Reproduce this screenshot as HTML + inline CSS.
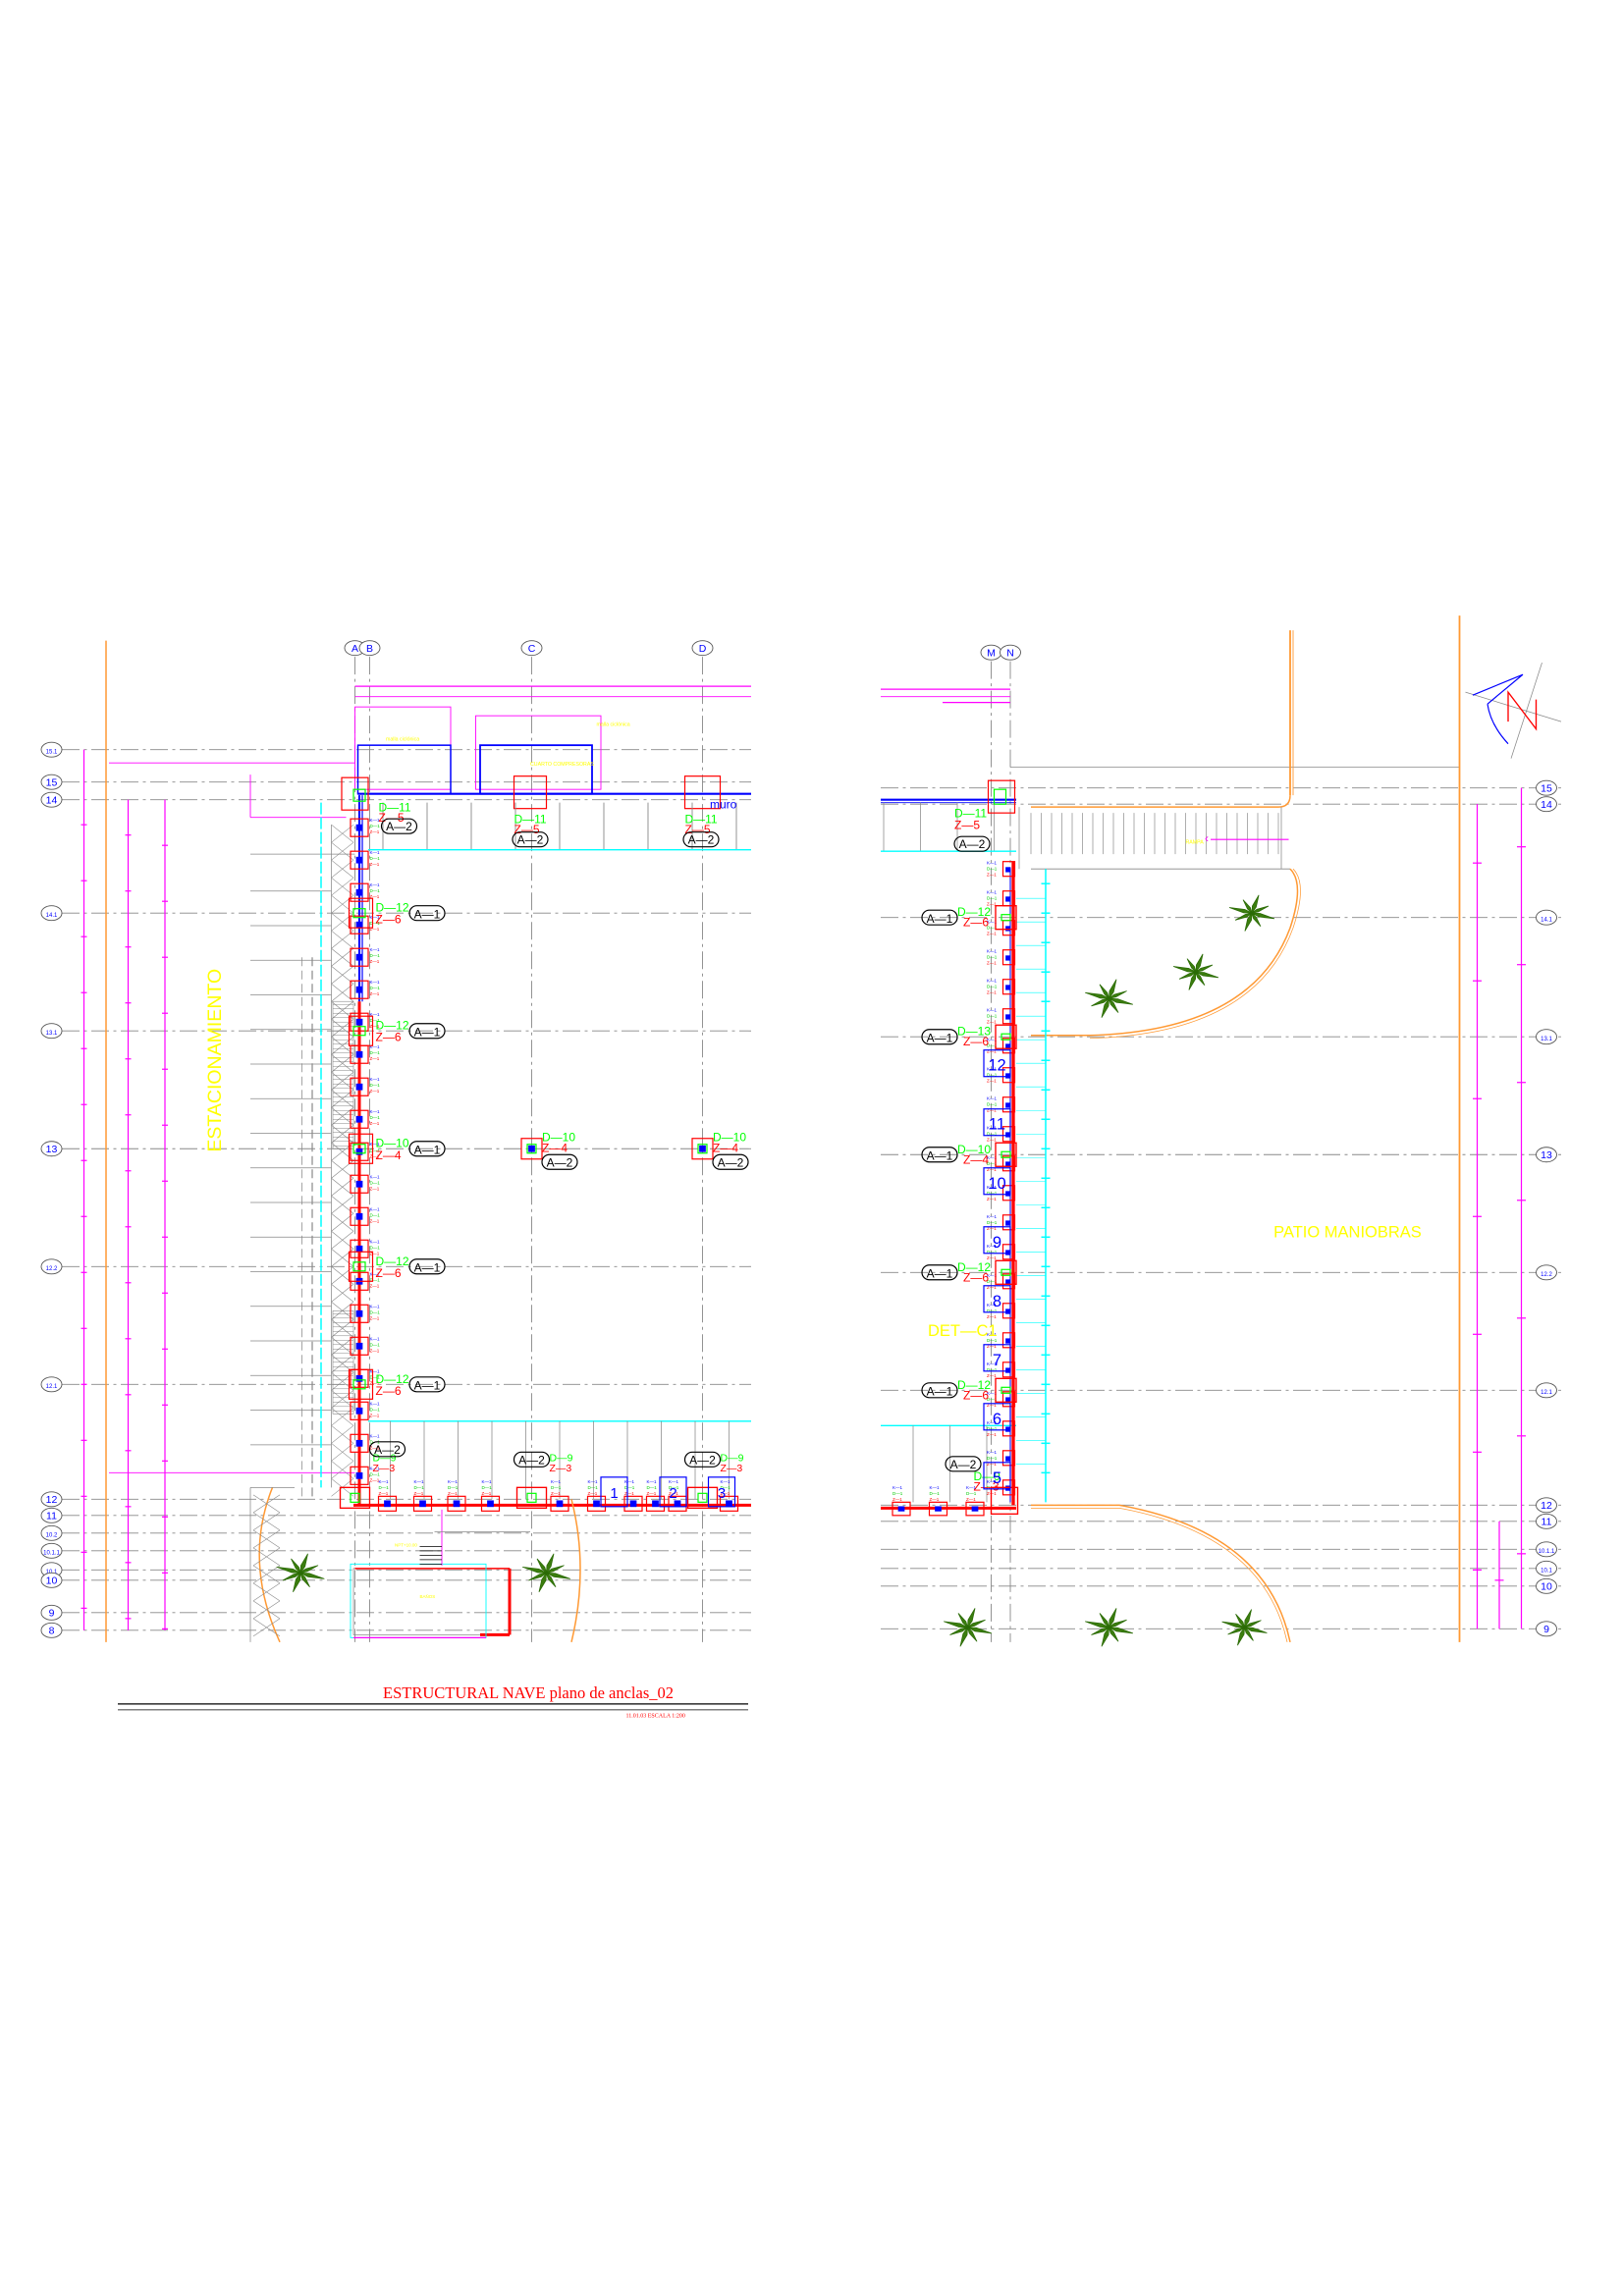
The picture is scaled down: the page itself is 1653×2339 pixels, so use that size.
<!DOCTYPE html>
<html><head><meta charset="utf-8"><style>
html,body{margin:0;padding:0;background:#fff;}
svg{display:block;}
text{font-family:"Liberation Sans",sans-serif;}
</style></head><body>
<svg id="s" xmlns="http://www.w3.org/2000/svg" width="1653" height="2339" viewBox="0 0 1102 1559" preserveAspectRatio="none">
<rect width="1102" height="1559" fill="#fff"/>
<g id="g" fill="none" stroke-width="0.8"></g>
<text x="150" y="720" font-size="13" fill="#ffff00" transform="rotate(-90 150 720)" text-anchor="middle">ESTACIONAMIENTO</text>
<text x="915" y="840" font-size="11" fill="#ffff00" text-anchor="middle">PATIO   MANIOBRAS</text>
<text x="630" y="907" font-size="11" fill="#ffff00">DET—C1</text>
<text x="260" y="1153" font-size="11" fill="#ff0000" style="font-family:'Liberation Serif',serif">ESTRUCTURAL NAVE  plano de anclas_02</text>
<line x1="80" y1="1157" x2="508" y2="1157" stroke="#000" stroke-width="0.8"/>
<line x1="80" y1="1161" x2="508" y2="1161" stroke="#000" stroke-width="0.5"/>
<text x="425" y="1166" font-size="4" fill="#ff0000" style="font-family:'Liberation Serif',serif">11.01.03      ESCALA   1:200</text>
<text x="482" y="549" font-size="8" fill="#0000ff">muro</text>
</svg>
<script>
const g=document.getElementById('g');const NS='http://www.w3.org/2000/svg';
function el(t,a,txt){const e=document.createElementNS(NS,t);for(const k in a)e.setAttribute(k,a[k]);if(txt!==undefined)e.textContent=txt;g.appendChild(e);return e;}
function L(x1,y1,x2,y2,c,w,d){const a={x1,y1,x2,y2,stroke:c,'stroke-width':w||0.6};if(d)a['stroke-dasharray']=d;return el('line',a);}
function R(x,y,w,h,c,sw,f){return el('rect',{x,y,width:w,height:h,stroke:c,'stroke-width':sw||0.8,fill:f||'none'});}
function T(x,y,s,c,t,anc){return el('text',{x,y,'font-size':s,fill:c,stroke:'none','text-anchor':anc||'start'},t);}
function bub(x,y,lab){el('ellipse',{cx:x,cy:y,rx:7,ry:5,stroke:'#555','stroke-width':0.6,fill:'#fff'});T(x,y+2.5,lab.length>2?4:7,'#0000ff',lab,'middle');}
const DD='12 3 2 3';
const rowsL=[['15.1',509],['15',531],['14',543],['14.1',620],['13.1',700],['13',780],['12.2',860],['12.1',940],['12',1018],['11',1029],['10.2',1041],['10.1.1',1053],['10.1',1066],['10',1073],['9',1095],['8',1107]];
rowsL.forEach(([l,y])=>{L(42,y,510,y,'#888',0.6,DD);bub(35,y,l);});
[['A',241],['B',251],['C',361],['D',477]].forEach(([l,x])=>{L(x,446,x,1115,'#888',0.6,DD);bub(x,440,l);});
L(72,435,72,1115,'#ff9933',1);
[57,87,112].forEach((x,i)=>{L(x,[509,543,543][i],x,1107,'#ff00ff',0.8);for(let y=560;y<1100;y+=38)L(x-2,y+i*7,x+2,y+i*7,'#ff00ff',0.8);});
L(241,466,510,466,'#ff00ff',0.8);L(241,473,510,473,'#ff00ff',0.6);
L(74,518,241,518,'#ff00ff',0.6);L(170,526,170,555,'#ff00ff',0.6);L(170,555,235,555,'#ff00ff',0.6);
L(74,1000,241,1000,'#ff00ff',0.6);
R(241,480,65,56,'#ff00ff',0.6);R(323,486,85,50,'#ff00ff',0.6);
R(243,506,63,33,'#0000ff',1);R(326,506,76,33,'#0000ff',1.2);
L(243,539,510,539,'#0000ff',1.4);
T(262,503,3.5,'#ffff00','malla ciclónica');T(360,520,3.5,'#ffff00','CUARTO COMPRESORAS');T(405,493,3.5,'#ffff00','malla ciclónica');
R(349,527,22,22,'#ff0000',0.8);R(465,527,24,22,'#ff0000',0.8);
for(let x=260;x<510;x+=30)L(x,545,x,577,'#888',0.6);
L(250,577,510,577,'#00ffff',0.9);
L(170,580,241,580,'#888',0.5);
for(let y=605;y<990;y+=23.5)L(170,y,225,y,'#888',0.5);
L(218,545,218,1010,'#00ffff',1,'8 2');
for(let y=560;y<1010;y+=12){L(225,y,240,y+12,'#888',0.4);L(240,y,225,y+12,'#888',0.4);}
L(225,560,225,1010,'#888',0.5);
R(226,680,14,100,'#888',0.4);R(226,890,14,70,'#888',0.4);
for(let y=682;y<780;y+=3)L(226,y,240,y,'#777',0.3);for(let y=892;y<960;y+=3)L(226,y,240,y,'#777',0.3);
L(212,650,212,1018,'#888',0.8,'6 3');
L(205,650,205,1018,'#888',0.5,'6 3');
L(244,540,244,680,'#0000ff',1.4);L(246,540,246,680,'#0000ff',0.8);
L(244,680,244,1022,'#ff0000',2);L(240,1022,510,1022,'#ff0000',2);
L(250,965,510,965,'#00ffff',0.9);
for(let x=265;x<510;x+=23)L(x,965,x,1018,'#888',0.5);
for(let y=562;y<1010;y+=22){R(238,y-6,12,12,'#ff0000',0.8);R(242,y-2,4,4,'#0000ff',0.5,'#0000ff');T(251,y-4,3,'#0000ff','K—1');T(251,y,3,'#00cc00','D—1');T(251,y+4,3,'#ff0000','Z—1');}
[620,700,780,860,940].forEach((y,i)=>{R(237,y-10,16,20,'#ff0000',0.8);R(240,y-3,8,6,'#00ff00',0.8);T(255,y-1,8,'#00ff00',i==2?'D—10':'D—12');T(255,y+7,8,'#ff0000',i==2?'Z—4':'Z—6');
 el('rect',{x:278,y:y-5,width:24,height:10,rx:5,stroke:'#000','stroke-width':0.8,fill:'none'});T(290,y+3.5,8,'#000','A—1','middle');});
R(232,528,18,22,'#ff0000',0.8);R(240,536,8,8,'#00ff00',0.8);T(257,551,8,'#00ff00','D—11');T(257,558,8,'#ff0000','Z—5');
el('rect',{x:259,y:556,width:24,height:10,rx:5,stroke:'#000','stroke-width':0.8});T(271,564,8,'#000','A—2','middle');
[[361,'D—11','Z—5'],[477,'D—11','Z—5']].forEach(([x,a,b])=>{T(x-12,559,8,'#00ff00',a);T(x-12,566,8,'#ff0000',b);el('rect',{x:x-13,y:565,width:24,height:10,rx:5,stroke:'#000','stroke-width':0.8});T(x-1,573,8,'#000','A—2','middle');});
[361,477].forEach(x=>{R(x-7,773,14,14,'#ff0000',0.8);R(x-3,777,6,6,'#00ff00',0.8);R(x-2,778,4,4,'#0000ff',0.5,'#0000ff');T(x+7,775,8,'#00ff00','D—10');T(x+7,782,8,'#ff0000','Z—4');el('rect',{x:x+7,y:784,width:24,height:10,rx:5,stroke:'#000','stroke-width':0.8});T(x+19,792,8,'#000','A—2','middle');});
[263,287,310,333,380,405,430,445,460,495].forEach(x=>{R(x-6,1016,12,10,'#ff0000',0.8);R(x-2,1019,4,4,'#0000ff',0.5,'#0000ff');T(x-6,1007,3,'#0000ff','K—1');T(x-6,1011,3,'#00cc00','D—1');T(x-6,1015,3,'#ff0000','Z—1');});
[[241,'D—9'],[361,'D—9'],[477,'D—9']].forEach(([x,a])=>{R(x-10,1010,20,14,'#ff0000',0.9);R(x-3,1014,6,6,'#00ff00',0.8);T(x+12,992,7,'#00ff00',a);T(x+12,999,7,'#ff0000','Z—3');el('rect',{x:x-12+ (x==241?22:0),y:x==241?979:986,width:24,height:10,rx:5,stroke:'#000','stroke-width':0.8});T(x+(x==241?22:0),x==241?987:994,8,'#000','A—2','middle');});
[[408,'1'],[448,'2'],[481,'3']].forEach(([x,n])=>{R(x,1003,18,20,'#0000ff',0.8);T(x+9,1017,10,'#0000ff',n,'middle');});
el('path',{d:'M185,1010 Q165,1060 190,1115',stroke:'#ff9933','stroke-width':1});
el('path',{d:'M170,1010 L170,1115 M170,1010 L200,1010',stroke:'#888','stroke-width':0.5});
for(let y=1015;y<1110;y+=12){L(172,y,190,y+12,'#888',0.4);L(190,y,172,y+12,'#888',0.4);}
el('path',{d:'M388,1018 Q400,1065 388,1115',stroke:'#ff9933','stroke-width':1});
R(240,1065,106,45,'#888',0.5);L(346,1065,346,1110,'#ff0000',2);L(326,1110,346,1110,'#ff0000',2);L(241,1065,346,1065,'#ff0000',1);
R(238,1062,92,50,'#00ffff',0.6);L(240,1112,330,1112,'#ff00ff',0.8);
L(300,1025,300,1063,'#ff00ff',0.6);L(295,1040,360,1040,'#888',0.5);
for(let y=1050;y<1065;y+=3)L(285,y,300,y,'#000',0.5);
T(268,1050,3,'#ffff00','NPT+10.00');T(285,1085,3,'#ffff00','BAÑOS');
const rowsR=[['15',535],['14',546],['14.1',623],['13.1',704],['13',784],['12.2',864],['12.1',944],['12',1022],['11',1033],['10.1.1',1052],['10.1',1065],['10',1077],['9',1106]];
rowsR.forEach(([l,y])=>{L(598,y,1060,y,'#888',0.6,DD);bub(1050,y,l);});
[['M',673],['N',686]].forEach(([l,x])=>{L(x,449,x,1115,'#888',0.6,DD);bub(x,443,l);});
L(598,468,686,468,'#ff00ff',0.8);L(598,473,686,473,'#ff00ff',0.6);L(640,477,686,477,'#ff00ff',0.8);
L(686,521,991,521,'#888',0.5);
L(876,428,876,540,'#ff9933',1.2);L(878,428,878,540,'#ff9933',0.6);
el('path',{d:'M876,540 Q876,548 868,548 L700,548',stroke:'#ff9933','stroke-width':1});
L(991,418,991,1115,'#ff9933',1.2);
L(700,590,876,590,'#888',0.6);L(692,548,692,590,'#888',0.5);
for(let x=700;x<875;x+=7)L(x,552,x,580,'#777',0.4);
L(870,548,870,590,'#888',0.5);
T(805,573,3.5,'#ffff00','RAMPA');L(822,570,875,570,'#ff00ff',0.7);T(818,572,8,'#ff00ff','‹');
el('path',{d:'M876,590 Q886,600 876,630 Q850,700 740,703',stroke:'#ff9933','stroke-width':1});
el('path',{d:'M878,590 Q888,600 878,630 Q852,702 740,705',stroke:'#ff9933','stroke-width':0.5});
L(700,703,740,703,'#ff9933',1);
el('path',{d:'M700,1022 L760,1022 Q860,1040 876,1115',stroke:'#ff9933','stroke-width':1});
el('path',{d:'M700,1024 L760,1024 Q858,1042 874,1115',stroke:'#ff9933','stroke-width':0.5});
L(598,543,690,543,'#0000ff',1.4);L(598,545,690,545,'#0000ff',0.6);
for(let x=600;x<690;x+=25)L(x,545,x,578,'#888',0.5);
L(598,578,690,578,'#00ffff',0.9);
L(710,590,710,1020,'#00ffff',1);
for(let y=600;y<1020;y+=20)L(707,y,713,y,'#00ffff',1);
for(let y=610;y<1000;y+=16)L(690,y,710,y,'#00ffff',0.4);
L(598,968,690,968,'#00ffff',0.9);[620,645,670].forEach(x=>L(x,968,x,1020,'#888',0.5));
L(688,585,688,1022,'#ff0000',2.2);L(598,1024,690,1024,'#ff0000',2);
L(686,590,686,1020,'#0000ff',0.7);
R(671,530,18,22,'#ff0000',0.8);R(675,536,8,10,'#00ff00',0.8);
for(let y=590;y<1015;y+=20){R(681,y-5,8,10,'#ff0000',0.8);R(683,y-1,3,3,'#0000ff',0.5,'#0000ff');T(670,y-3,3,'#0000ff','K—1');T(670,y+1,3,'#00cc00','D—1');T(670,y+5,3,'#ff0000','Z—1');}
[[623,'D—12','Z—6'],[704,'D—13','Z—6'],[784,'D—10','Z—4'],[864,'D—12','Z—6'],[944,'D—12','Z—6']].forEach(([y,a,b])=>{R(676,y-8,14,16,'#ff0000',0.9);R(680,y-2,6,4,'#00ff00',0.8);T(650,y-1,8,'#00ff00',a);T(654,y+6,8,'#ff0000',b);el('rect',{x:626,y:y-5,width:24,height:10,rx:5,stroke:'#000','stroke-width':0.8});T(638,y+3.5,8,'#000','A—1','middle');});
T(648,555,8,'#00ff00','D—11');T(648,563,8,'#ff0000','Z—5');el('rect',{x:648,y:568,width:24,height:10,rx:5,stroke:'#000','stroke-width':0.8});T(660,576,8,'#000','A—2','middle');
T(661,1005,8,'#00ff00','D—9');T(661,1012,8,'#ff0000','Z—3');el('rect',{x:642,y:989,width:24,height:10,rx:5,stroke:'#000','stroke-width':0.8});T(654,997,8,'#000','A—2','middle');
R(673,1010,18,18,'#ff0000',0.9);
[[713,'12'],[753,'11'],[793,'10'],[833,'9'],[873,'8'],[913,'7'],[953,'6'],[993,'5']].forEach(([y,n])=>{R(668,y,18,18,'#0000ff',0.8);T(677,y+14,11,'#0000ff',n,'middle');});
[612,637,662].forEach(x=>{R(x-6,1020,12,9,'#ff0000',0.8);R(x-2,1023,4,3,'#0000ff',0.5,'#0000ff');T(x-6,1011,3,'#0000ff','K—1');T(x-6,1015,3,'#00cc00','D—1');T(x-6,1019,3,'#ff0000','Z—1');});
[1003,1033,1018].forEach((x,i)=>{const y1=[546,535,1033][i];L(x,y1,x,1106,'#ff00ff',0.8);for(let y=y1+40;y<1100;y+=80)L(x-3,y,x+3,y,'#ff00ff',0.8);});
L(995,470,1060,490,'#888',0.5);L(1047,450,1026,515,'#888',0.5);
el('path',{d:'M1000,472 L1034,458 M1010,478 Q1012,492 1024,505 M1010,478 L1034,458',stroke:'#0000ff','stroke-width':0.8});
el('path',{d:'M1024,490 L1024,470 L1043,495 L1043,475',stroke:'#ff0000','stroke-width':0.9});
function palm(cx,cy,s){let d='';const n=8;for(let i=0;i<n;i++){const a=i/n*Math.PI*2+0.3,r=s*(i%2?0.8:1);const x=cx+Math.cos(a)*r,y=cy+Math.sin(a)*r*0.8;const a2=a+0.25,a3=a-0.25;d+=`M${cx},${cy} L${cx+Math.cos(a2)*r*0.35},${cy+Math.sin(a2)*r*0.3} L${x},${y} L${cx+Math.cos(a3)*r*0.35},${cy+Math.sin(a3)*r*0.3} Z `;}el('path',{d,fill:'#3b7d0e',stroke:'#2a6a05','stroke-width':0.5});}
[[204,1068,17],[371,1068,17],[850,620,16],[812,660,16],[753,678,17],[657,1105,17],[753,1105,17],[845,1105,16]].forEach(p=>palm(...p));
</script>
</body></html>
